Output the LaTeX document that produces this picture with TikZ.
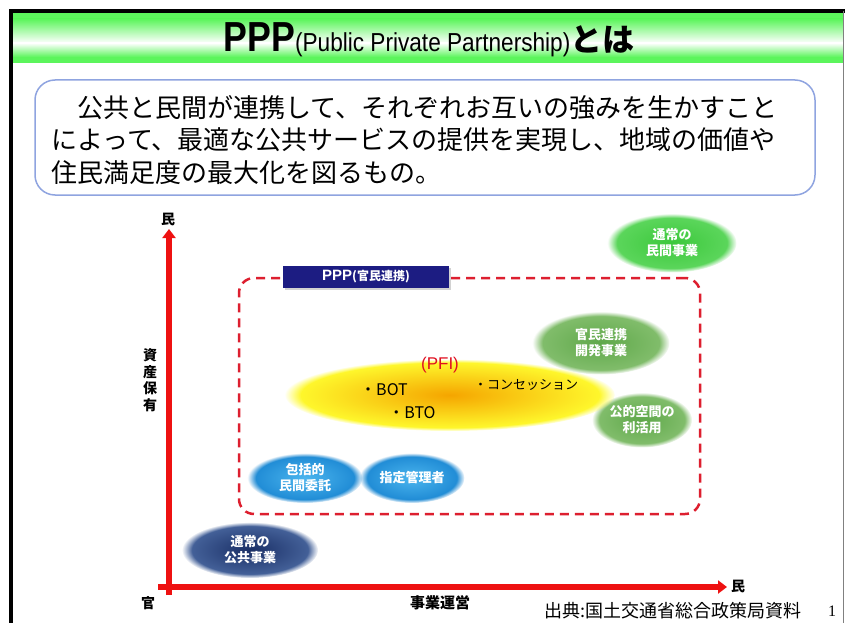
\documentclass[tikz,border=0pt]{standalone}
\usepackage{fontspec}
\setmainfont{Liberation Sans}
\newfontfamily\jp{Noto Sans CJK JP}
\newfontfamily\serifn{Liberation Serif}
\usetikzlibrary{shapes.geometric,fadings,arrows.meta,shadows}
\definecolor{hgreen}{HTML}{5CF55C}
\definecolor{boxblue}{HTML}{8FA4E0}
\definecolor{axred}{HTML}{EE1111}
\definecolor{dashred}{HTML}{DD1F2F}
\definecolor{navylab}{HTML}{1C1C82}
\definecolor{grA}{HTML}{3CC83C}
\definecolor{grAo}{HTML}{60D860}
\definecolor{grB}{HTML}{5FA84A}
\definecolor{grBo}{HTML}{86C070}
\definecolor{blA}{HTML}{4BB5EE}
\definecolor{blAo}{HTML}{1A86D2}
\definecolor{nvA}{HTML}{1A2F66}
\definecolor{nvAo}{HTML}{4A68A0}
\definecolor{ylo}{HTML}{FFFF30}
\definecolor{org}{HTML}{F5A500}
\definecolor{pfired}{HTML}{E01020}
\tikzset{
  blob/.style={ellipse, inner sep=0pt, align=center, text=white,
    font=\jp\bfseries\fontsize{13}{16}\selectfont,
    path fading=circle with fuzzy edge 15 percent},
  axis/.style={draw=axred, line width=6pt, -{Triangle[length=9pt,width=13pt]}},
  axlabel/.style={font=\jp\bfseries\fontsize{14}{16.5}\selectfont, inner sep=0pt, align=center},
  itemtxt/.style={font=\jp\fontsize{16}{18}\selectfont, inner sep=0pt},
}
\begin{document}
\begin{tikzpicture}[x=1pt,y=-1pt]
\useasboundingbox (0,0) rectangle (845,623);
\fill[white] (0,0) rectangle (845,623);
% header band
\fill[hgreen] (12.5,13) rectangle (843,19);
\shade[top color=hgreen, bottom color=white] (12.5,19) rectangle (843,43);
\shade[top color=white, bottom color=hgreen] (12.5,43) rectangle (843,57);
\fill[hgreen] (12.5,57) rectangle (843,63.5);
% frame
\draw[black, line width=3.5pt] (11,623) -- (11,11) -- (845,11);
\draw[gray, line width=1pt] (843.5,11) -- (843.5,623);
% title
\node[inner sep=0pt] (title) at (429,40)
  {{\fontsize{42}{42}\selectfont\bfseries\scalebox{0.85}[1]{PPP}}{\fontsize{26}{26}\selectfont\scalebox{0.87}[1]{(Public Private Partnership)}}{\jp\bfseries\fontsize{32}{32}\selectfont とは}};
% text box
\node[draw=boxblue, line width=1.5pt, rounded corners=20pt, minimum width=780pt, minimum height=115pt] (defbox) at (425,137.5) {};
\node[anchor=west, align=left, inner sep=0pt, font=\jp\fontsize{26}{32.5}\selectfont] (deftext) at (51,140)
  {　公共と民間が連携して、それぞれお互いの強みを生かすこと\\によって、最適な公共サービスの提供を実現し、地域の価値や\\住民満足度の最大化を図るもの。};
% axes
\coordinate (vbot) at (169,595);
\coordinate (vtop) at (169,229);
\coordinate (hl) at (158,587);
\coordinate (hr) at (727,587);
\draw[axis] (vbot) -- (vtop);
\draw[axis] (hl) -- (hr);
\node[axlabel] (ymin) at (168,219) {民};
\node[axlabel] (xmax) at (738,586) {民};
\node[axlabel] (orig) at (148,603) {官};
\node[axlabel, font=\jp\bfseries\fontsize{15}{16}\selectfont] (xname) at (440,603) {事業運営};
\node[axlabel] (yname) at (150,380) {資\\産\\保\\有};
% PPP dashed region
\node[draw=dashred, line width=2.5pt, dash pattern=on 9pt off 6pt, rounded corners=15pt,
      minimum width=461pt, minimum height=236pt] (pppbox) at (469.5,396) {};
\node[fill=navylab, minimum width=166pt, minimum height=22pt, inner sep=0pt, text=white,
      drop shadow={opacity=0.35, shadow xshift=1.5pt, shadow yshift=-1.5pt}] (ppplabel) at (366,277)
  {{\fontsize{15}{15}\selectfont\bfseries PPP}{\jp\bfseries\fontsize{12}{12}\selectfont (官民連携)}};
% ellipses
\node[blob, inner color=grA, outer color=grAo, minimum width=129pt, minimum height=59pt] (pvt) at (672,243) {通常の\\民間事業};
\node[blob, inner color=grB, outer color=grBo, minimum width=137pt, minimum height=63pt] (dev) at (601,343) {官民連携\\開発事業};
\node[blob, inner color=grB, outer color=grBo, minimum width=100pt, minimum height=55pt] (space) at (642,420) {公的空間の\\利活用};
\node[blob, inner color=org, outer color=ylo, minimum width=330pt, minimum height=72pt,
      path fading=circle with fuzzy edge 10 percent] (pfi) at (450,395) {};
\node[font=\fontsize{17}{17}\selectfont, text=pfired, inner sep=0pt] (pfil) at (440,365) {(PFI)};
\node[itemtxt] (bot) at (384,390) {・BOT};
\node[itemtxt] (bto) at (412,413) {・BTO};
\node[itemtxt, font=\jp\fontsize{13}{15}\selectfont] (conc) at (526,385) {・コンセッション};
\node[blob, inner color=blA, outer color=blAo, minimum width=115pt, minimum height=50pt] (hok) at (305,478) {包括的\\民間委託};
\node[blob, inner color=blA, outer color=blAo, minimum width=105pt, minimum height=50pt] (shitei) at (412,478) {指定管理者};
\node[blob, inner color=nvA, outer color=nvAo, minimum width=136pt, minimum height=56pt] (pub) at (250,550) {通常の\\公共事業};
% footer
\node[font=\jp\fontsize{18}{18}\selectfont, inner sep=0pt] (src) at (673,611) {出典:国土交通省総合政策局資料};
\node[font=\serifn\fontsize{16}{16}\selectfont, inner sep=0pt] (pg) at (832,611) {1};
\end{tikzpicture}
\end{document}
